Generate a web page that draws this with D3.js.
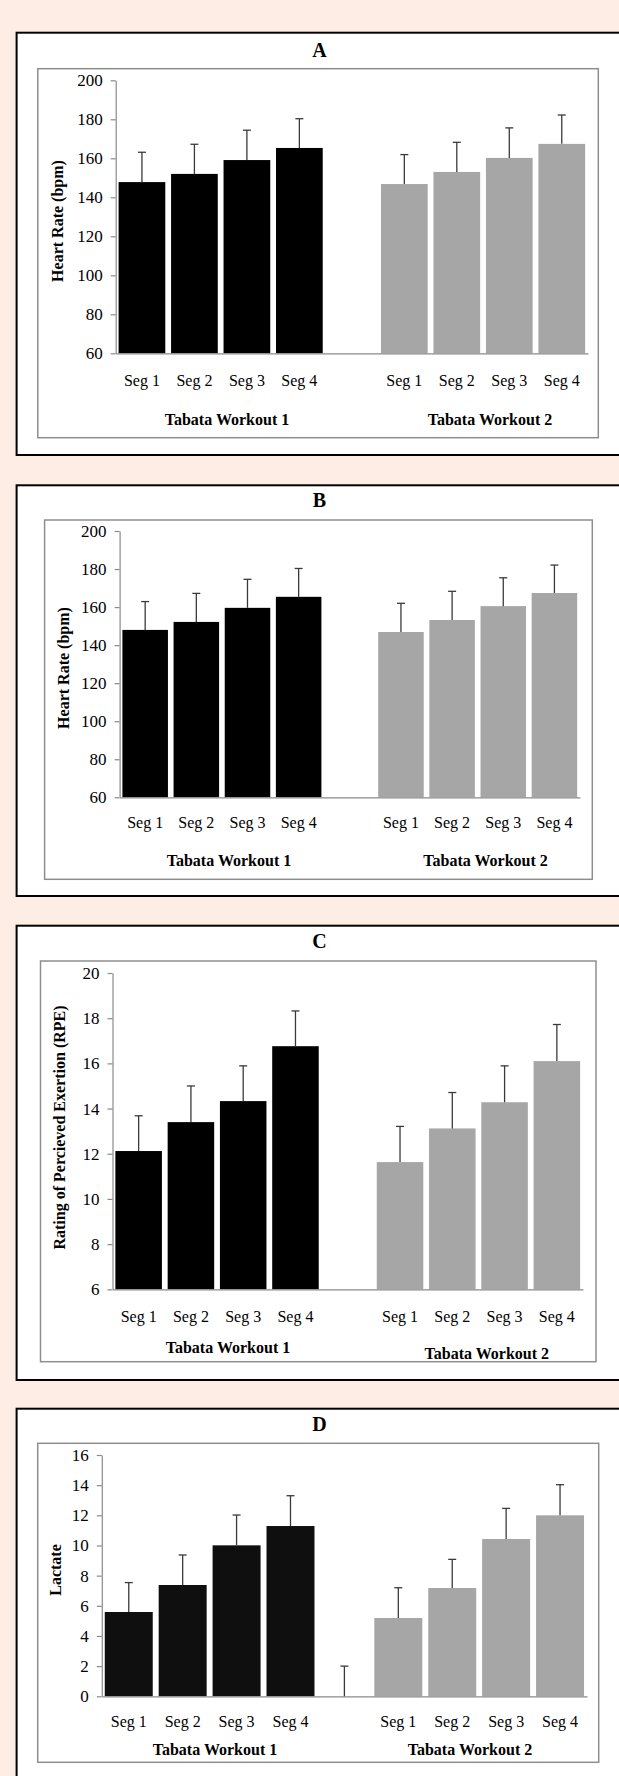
<!DOCTYPE html>
<html><head><meta charset="utf-8">
<script src="https://cdn.jsdelivr.net/npm/d3@7"></script>
<style>html,body{margin:0;padding:0;background:#fdede4;} svg{display:block}</style>
</head><body><svg id="c" width="619" height="1776"></svg>
<script>
// ---------- DATA ----------
const segments = ["Seg 1", "Seg 2", "Seg 3", "Seg 4"];
const workouts = ["Tabata Workout 1", "Tabata Workout 2"];
const panelLetters = ["A", "B", "C", "D"];
const yTitles = ["Heart Rate (bpm)", "Heart Rate (bpm)", "Rating of Percieved Exertion (RPE)", "Lactate"];

// Panel A – heart rate
const hrA_w1 = [147.8, 152.0, 159.1, 165.3];
const hrA_w1_sd = [15.3, 15.2, 15.3, 15.0];
const hrA_w2 = [146.8, 153.0, 160.2, 167.4];
const hrA_w2_sd = [15.1, 15.2, 15.4, 14.8];
// Panel B – heart rate
const hrB_w1 = [148.0, 152.2, 159.6, 165.4];
const hrB_w1_sd = [14.9, 15.0, 15.0, 14.9];
const hrB_w2 = [146.9, 153.2, 160.5, 167.4];
const hrB_w2_sd = [15.1, 15.1, 14.9, 14.7];
// Panel C – RPE
const rpe_w1 = [12.12, 13.40, 14.33, 16.76];
const rpe_w1_sd = [1.56, 1.60, 1.56, 1.56];
const rpe_w2 = [11.63, 13.12, 14.28, 16.10];
const rpe_w2_sd = [1.58, 1.59, 1.61, 1.62];
// Panel D – lactate (with an empty middle bar carrying an error bar)
const lac_w1 = [5.59, 7.38, 10.01, 11.29];
const lac_w1_sd = [1.95, 1.99, 2.01, 2.01];
const lac_gap = [0];
const lac_gap_sd = [2.0];
const lac_w2 = [5.19, 7.18, 10.43, 12.00];
const lac_w2_sd = [2.01, 1.90, 2.03, 2.03];

const hrTicks = [60, 80, 100, 120, 140, 160, 180, 200];
const rpeTicks = [6, 8, 10, 12, 14, 16, 18, 20];
const lacTicks = [0, 2, 4, 6, 8, 10, 12, 14, 16];

// ---------- LAYOUT ----------
const BLACK = "#000000", GRAY = "#a6a6a6";
const panels = [
  { letter: panelLetters[0], ytitle: yTitles[0], w1: hrA_w1, w1sd: hrA_w1_sd, w2: hrA_w2, w2sd: hrA_w2_sd, ticks: hrTicks,
    outer: [16.6, 32.7, 455], titleY: 50, inner: [37.8, 68.7, 598.3, 437.7],
    ax: 115.7, axEnd: 588, yTop: 80.3, yBot: 353.3, segY: 380, grpY: [419.3, 419.3], grpX: [227, 490], yt: [57.2, 221], black: BLACK },
  { letter: panelLetters[1], ytitle: yTitles[1], w1: hrB_w1, w1sd: hrB_w1_sd, w2: hrB_w2, w2sd: hrB_w2_sd, ticks: hrTicks,
    outer: [16.6, 485.3, 896], titleY: 500, inner: [44.6, 520, 592.3, 879.3],
    ax: 119.6, axEnd: 580, yTop: 531, yBot: 797.3, segY: 822.7, grpY: [860, 860], grpX: [229, 485.6], yt: [63, 668], black: BLACK },
  { letter: panelLetters[2], ytitle: yTitles[2], w1: rpe_w1, w1sd: rpe_w1_sd, w2: rpe_w2, w2sd: rpe_w2_sd, ticks: rpeTicks,
    outer: [16.6, 925.7, 1380], titleY: 941, inner: [40.5, 961, 596, 1361.7],
    ax: 112.5, axEnd: 583, yTop: 973, yBot: 1289.3, segY: 1316.7, grpY: [1347.3, 1353.3], grpX: [228, 486.8], yt: [59, 1127.5], black: BLACK },
  { letter: panelLetters[3], ytitle: yTitles[3], w1: lac_w1, w1sd: lac_w1_sd, w2: lac_w2, w2sd: lac_w2_sd, gap: lac_gap, gapsd: lac_gap_sd, ticks: lacTicks,
    outer: [16.6, 1408.7, 1820], titleY: 1424, inner: [37.7, 1443.3, 598.7, 1762.3],
    ax: 101.8, axEnd: 587, yTop: 1455, yBot: 1696.3, segY: 1721.7, grpY: [1749.3, 1749.3], grpX: [215, 470], yt: [55.3, 1570], black: "#0f0f0f" }
];

const svg = d3.select("#c");
const FONT = "'Liberation Serif','Times New Roman',serif";

panels.forEach(p => {
  const g = svg.append("g");
  // outer box (extends past right edge)
  g.append("rect").attr("x", p.outer[0]).attr("y", p.outer[1]).attr("width", 700).attr("height", p.outer[2] - p.outer[1])
    .attr("fill", "#fff").attr("stroke", "#000").attr("stroke-width", 2);
  // inner frame
  g.append("rect").attr("x", p.inner[0]).attr("y", p.inner[1]).attr("width", p.inner[2] - p.inner[0]).attr("height", p.inner[3] - p.inner[1])
    .attr("fill", "#fff").attr("stroke", "#8e8e8e").attr("stroke-width", 1.5);
  // panel letter
  g.append("text").attr("x", 319.5).attr("y", p.titleY).attr("dy", "0.35em").attr("text-anchor", "middle")
    .attr("font-family", FONT).attr("font-weight", "bold").attr("font-size", 20).text(p.letter);

  const keys = [...segments.map(s => "w1|" + s), "gap", ...segments.map(s => "w2|" + s)];
  const x = d3.scaleBand().domain(keys).range([p.ax, p.axEnd]).paddingInner(0.11).paddingOuter(0.055);
  const y = d3.scaleLinear().domain([p.ticks[0], p.ticks[p.ticks.length - 1]]).range([p.yBot, p.yTop]);

  const bars = [];
  segments.forEach((s, i) => bars.push({ key: "w1|" + s, seg: s, v: p.w1[i], sd: p.w1sd[i], c: p.black }));
  if (p.gap) bars.push({ key: "gap", seg: null, v: p.gap[0], sd: p.gapsd[0], c: p.black });
  segments.forEach((s, i) => bars.push({ key: "w2|" + s, seg: s, v: p.w2[i], sd: p.w2sd[i], c: GRAY }));

  // bars
  g.selectAll("rect.bar").data(bars.filter(d => d.v > p.ticks[0])).join("rect").attr("class", "bar")
    .attr("x", d => x(d.key)).attr("width", x.bandwidth())
    .attr("y", d => y(d.v)).attr("height", d => y(p.ticks[0]) - y(d.v)).attr("fill", d => d.c);

  // y axis
  const yAxis = g.append("g").attr("transform", `translate(${p.ax},0)`)
    .call(d3.axisLeft(y).tickValues(p.ticks).tickSize(5).tickSizeOuter(0).tickPadding(8).tickFormat(d3.format("d")));
  yAxis.selectAll("path,line").attr("stroke", "#8a8a8a").attr("stroke-width", 1.2);
  yAxis.selectAll("text").attr("font-family", FONT).attr("font-size", 17).attr("fill", "#000");

  // x axis line
  const xAxis = g.append("g").attr("transform", `translate(0,${p.yBot})`)
    .call(d3.axisBottom(x).tickValues([]).tickSizeOuter(0));
  xAxis.selectAll("path").attr("stroke", "#8a8a8a").attr("stroke-width", 1.2);

  // error bars
  const eb = g.selectAll("g.eb").data(bars).join("g").attr("class", "eb");
  const cx = d => x(d.key) + x.bandwidth() / 2;
  eb.append("line").attr("x1", cx).attr("x2", cx).attr("y1", d => y(d.v)).attr("y2", d => y(d.v + d.sd))
    .attr("stroke", "#3a3a3a").attr("stroke-width", 1.3);
  eb.append("line").attr("x1", d => cx(d) - 4).attr("x2", d => cx(d) + 4).attr("y1", d => y(d.v + d.sd)).attr("y2", d => y(d.v + d.sd))
    .attr("stroke", "#3a3a3a").attr("stroke-width", 1.3);

  // segment labels
  g.selectAll("text.seg").data(bars.filter(d => d.seg)).join("text").attr("class", "seg")
    .attr("x", cx).attr("y", p.segY).attr("dy", "0.35em").attr("text-anchor", "middle")
    .attr("font-family", FONT).attr("font-size", 16).text(d => d.seg);

  // workout labels
  workouts.forEach((w, i) => {
    g.append("text").attr("x", p.grpX[i]).attr("y", p.grpY[i]).attr("dy", "0.35em").attr("text-anchor", "middle")
      .attr("font-family", FONT).attr("font-weight", "bold").attr("font-size", 16).text(w);
  });

  // y title
  g.append("text").attr("transform", `translate(${p.yt[0]},${p.yt[1]}) rotate(-90)`).attr("dy", "0.35em")
    .attr("text-anchor", "middle").attr("font-family", FONT).attr("font-weight", "bold").attr("font-size", 16).text(p.ytitle);
});
</script></body></html>
